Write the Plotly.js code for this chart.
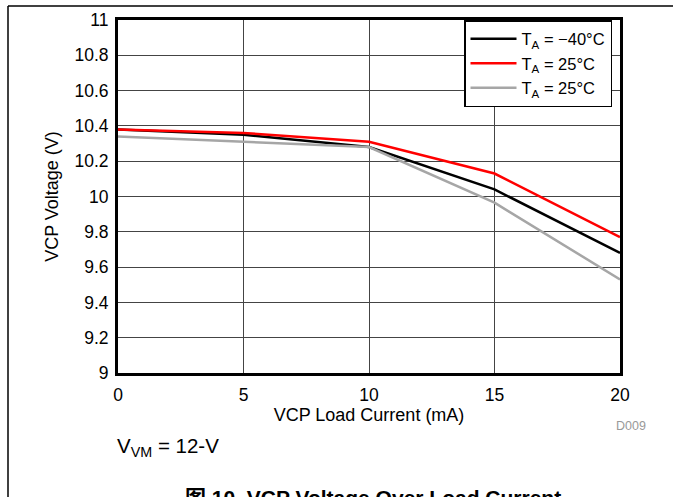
<!DOCTYPE html>
<html>
<head>
<meta charset="utf-8">
<script src="https://cdn.plot.ly/plotly-3.0.1.min.js"></script>
<style>html,body{margin:0;padding:0;background:#fff;overflow:hidden;width:673px;height:497px;}#chart{width:673px;height:497px;overflow:hidden;}</style>
</head>
<body>
<div id="chart"></div>
<script>
const loadCurrent = [0, 5, 10, 15, 20];
const vcpMinus40 = [10.38, 10.35, 10.28, 10.04, 9.68];
const vcp25Red = [10.38, 10.36, 10.31, 10.13, 9.77];
const vcp25Gray = [10.34, 10.31, 10.28, 9.965, 9.53];
const seriesNames = ['T<sub>A</sub> = \u221240\u00B0C', 'T<sub>A</sub> = 25\u00B0C', 'T<sub>A</sub> = 25\u00B0C'];
const xTicks = [0, 5, 10, 15, 20];
const yTicks = [9, 9.2, 9.4, 9.6, 9.8, 10, 10.2, 10.4, 10.6, 10.8, 11];
const yTickLabels = ['9', '9.2', '9.4', '9.6', '9.8', '10', '10.2', '10.4', '10.6', '10.8', '11'];

const FONT = 'Liberation Sans, Arial, Noto Sans CJK SC, sans-serif';
const L = 118, R = 620, T = 20, B = 373, W = 673, H = 497;
const px = v => (v - L) / (R - L);
const py = v => (B - v) / (B - T);

const traces = [
  {x: loadCurrent, y: vcpMinus40, name: seriesNames[0], mode: 'lines', line: {color: '#000000', width: 2.5}},
  {x: loadCurrent, y: vcp25Red, name: seriesNames[1], mode: 'lines', line: {color: '#ff0000', width: 2.5}},
  {x: loadCurrent, y: vcp25Gray, name: seriesNames[2], mode: 'lines', line: {color: '#a6a6a6', width: 2.5}}
];

const layout = {
  width: W, height: H,
  margin: {l: L, r: W - R, t: T, b: H - B, pad: 0},
  paper_bgcolor: '#ffffff', plot_bgcolor: '#ffffff',
  font: {family: FONT, size: 17, color: '#000'},
  showlegend: true,
  legend: {
    x: px(464), y: 1, xanchor: 'left', yanchor: 'top',
    bgcolor: '#ffffff', bordercolor: '#000000', borderwidth: 1.5,
    font: {family: FONT, size: 16.5, color: '#000'},
    tracegroupgap: 0, itemwidth: 46
  },
  xaxis: {
    range: [0, 20], tickvals: xTicks, ticktext: xTicks.map(String),
    showgrid: true, gridcolor: '#444', gridwidth: 1,
    zeroline: false, showline: true, linecolor: '#000', linewidth: 3, mirror: true,
    ticks: '', ticklabelstandoff: 4, tickfont: {family: FONT, size: 17.5, color: '#000'},
    title: {text: 'VCP Load Current (mA)', font: {family: FONT, size: 18, color: '#000'}, standoff: 0},
    fixedrange: true
  },
  yaxis: {
    range: [9, 11], tickvals: yTicks, ticktext: yTickLabels,
    showgrid: true, gridcolor: '#444', gridwidth: 1,
    zeroline: false, showline: true, linecolor: '#000', linewidth: 3, mirror: true,
    ticks: '', ticklabelstandoff: 3, tickfont: {family: FONT, size: 17.5, color: '#000'},
    title: {text: 'VCP Voltage (V)', font: {family: FONT, size: 18, color: '#000'}, standoff: 12},
    fixedrange: true
  },
  shapes: [
    {type: 'line', xref: 'paper', yref: 'paper', x0: px(8), x1: px(673), y0: py(6), y1: py(6), line: {color: '#000', width: 1.5}},
    {type: 'line', xref: 'paper', yref: 'paper', x0: px(8), x1: px(8), y0: py(6), y1: py(497), line: {color: '#000', width: 1.5}}
  ],
  annotations: [
    {xref: 'paper', yref: 'paper', x: px(648), y: py(426), xanchor: 'right', yanchor: 'middle', text: 'D009', showarrow: false, font: {family: FONT, size: 12.5, color: '#999'}},
    {xref: 'paper', yref: 'paper', x: px(115), y: py(447), xanchor: 'left', yanchor: 'middle', text: 'V<sub>VM</sub> = 12-V', showarrow: false, font: {family: FONT, size: 20.5, color: '#000'}},
    {xref: 'paper', yref: 'paper', x: px(373), y: py(484), xanchor: 'center', yanchor: 'top', text: '<b>图 10. VCP Voltage Over Load Current</b>', showarrow: false, font: {family: FONT, size: 21, color: '#000'}}
  ]
};

Plotly.newPlot('chart', traces, layout, {displayModeBar: false, staticPlot: true});
</script>
</body>
</html>
